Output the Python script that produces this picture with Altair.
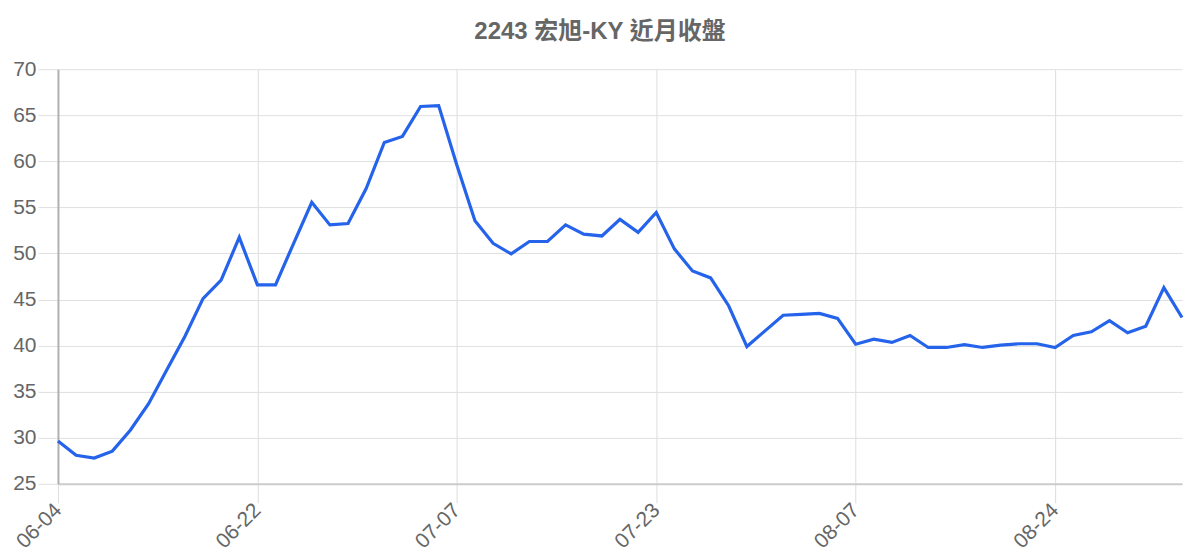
import altair as alt
import pandas as pd
import json

title_text = "2243 宏旭-KY 近月收盤"
close = [29.65, 28.1, 27.8, 28.55, 30.85, 33.7, 37.35, 41.0, 45.1, 47.1,
         51.75, 46.6, 46.6, 51.1, 55.55, 53.1, 53.25, 57.05, 62.05, 62.7,
         65.95, 66.05, 59.6, 53.55, 51.1, 49.95, 51.3, 51.3, 53.1, 52.1,
         51.9, 53.7, 52.3, 54.45, 50.5, 48.1, 47.35, 44.3, 39.9, 41.6,
         43.3, 43.4, 43.5, 42.95, 40.15, 40.7, 40.35, 41.1, 39.8, 39.8,
         40.1, 39.8, 40.05, 40.2, 40.2, 39.8, 41.1, 41.5, 42.7, 41.4,
         42.1, 46.3, 43.05]
tick_index = [0, 11, 22, 33, 44, 55]
tick_labels = ["06-04", "06-22", "07-07", "07-23", "08-07", "08-24"]
y_ticks = [25, 30, 35, 40, 45, 50, 55, 60, 65, 70]

df = pd.DataFrame({"i": list(range(len(close))), "close": close})

label_map = json.dumps(dict(zip([str(t) for t in tick_index], tick_labels)))
label_expr = f"{label_map}[''+datum.value]"

FONT = "Liberation Sans, Arial, Noto Sans CJK TC"

chart = alt.Chart(df).mark_line(color="#2563eb", strokeWidth=3.2, strokeJoin="miter").encode(
    x=alt.X("i:Q",
            scale=alt.Scale(domain=[0, len(close) - 1], nice=False, zero=False),
            axis=alt.Axis(values=tick_index, labelExpr=label_expr, title=None,
                          grid=True, gridColor="#dddddd", gridWidth=1,
                          tickSize=19, tickColor="#dddddd", tickWidth=1,
                          domainColor="#cccccc", domainWidth=2,
                          labelAngle=-45, labelAlign="right", labelBaseline="middle",
                          labelPadding=4, labelFontSize=21, labelColor="#666666",
                          labelFont=FONT, labelOverlap=False, labelFlush=False)),
    y=alt.Y("close:Q",
            scale=alt.Scale(domain=[25, 70], nice=False, zero=False),
            axis=alt.Axis(values=y_ticks, title=None,
                          grid=True, gridColor="#e0e0e0", gridWidth=1,
                          tickSize=20, tickColor="#e0e0e0", tickWidth=1,
                          domainColor="#b0b0b0", domainWidth=2,
                          labelPadding=2, labelFontSize=21, labelColor="#666666",
                          labelFont=FONT, labelOverlap=False)),
).properties(
    width=1125, height=415,
    title=alt.TitleParams(title_text, fontSize=24, fontWeight="bold", color="#666666",
                          font=FONT, anchor="middle", baseline="alphabetic",
                          offset=26, dy=31, dx=-20),
    autosize=alt.AutoSizeParams(type="none"),
    padding={"left": 50, "top": 61, "right": 10, "bottom": 80},
).configure_view(strokeWidth=0)

chart.save("out.html", embed_options={"renderer": "svg", "actions": False})
